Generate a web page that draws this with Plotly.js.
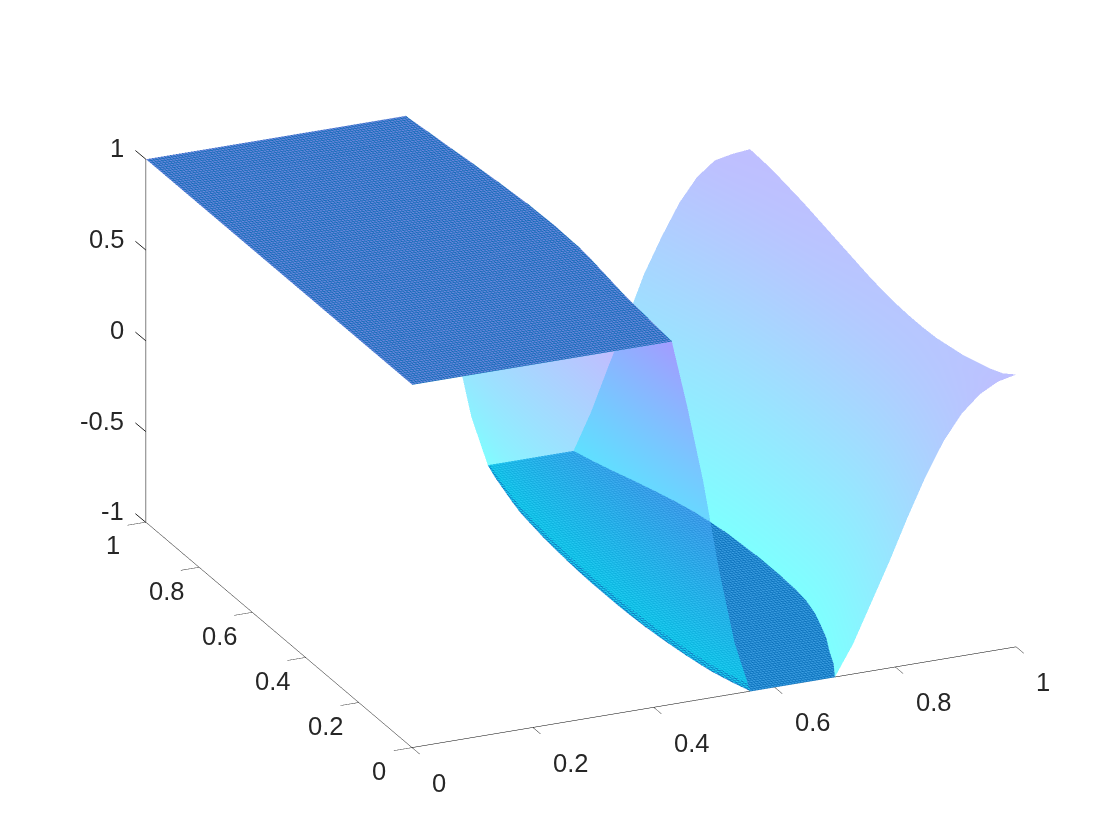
<!DOCTYPE html>
<html><head><meta charset="utf-8">
<script src="https://cdn.plot.ly/plotly-3.0.1.min.js"></script>
<style>html,body{margin:0;padding:0;background:#fff}#c{width:1120px;height:840px}</style>
</head><body><div id="c"></div>
<script>
const yRows=[0,.05,.1,.15,.2,.25,.3,.35,.4,.45,.5,.55,.6,.65,.7,.75,.8,.85,.9,.95,1];
const xTop=[.43,.4325,.435,.4375,.44,.444,.448,.452,.455,.456,.457,.456,.455,.4525,.45,.447,.444,.44,.437,.4335,.43];
const xLow=[.56,.548,.538,.532,.527,.523,.52,.518,.517,.517,.517,.518,.52,.522,.525,.529,.533,.54,.548,.556,.566];
const xHigh=[.70,.72,.735,.752,.765,.777,.785,.789,.79,.79,.79,.788,.786,.781,.775,.766,.755,.743,.73,.718,.708];
const fallStations=[0,.2,.4,.6,.8,1];
const fallZ=[1,.62,.2,-.3,-.72,-1];
const riseStations=[0,.1,.2,.3,.4,.5,.6,.7,.8,.9,1];
const riseZ=[
[-1,-.835,-.625,-.415,-.19,.02,.20,.335,.425,.478,.50],
[-1,-.841,-.639,-.436,-.22,-.017,.156,.286,.373,.423,.445],
[-1,-.845,-.648,-.45,-.239,-.041,.128,.255,.34,.389,.41],
[-1,-.848,-.654,-.46,-.252,-.058,.108,.233,.316,.364,.385],
[-1,-.85,-.66,-.47,-.266,-.075,.088,.21,.292,.34,.36],
[-1,-.852,-.664,-.475,-.274,-.085,.076,.197,.278,.325,.345],
[-1,-.854,-.668,-.481,-.282,-.096,.064,.184,.264,.31,.33],
[-1,-.854,-.669,-.483,-.285,-.099,.06,.179,.259,.305,.325],
[-1,-.854,-.669,-.483,-.285,-.099,.06,.179,.259,.305,.325],
[-1,-.854,-.668,-.481,-.282,-.096,.064,.184,.264,.31,.33],
[-1,-.853,-.665,-.477,-.276,-.089,.072,.193,.273,.32,.34],
[-1,-.851,-.661,-.472,-.268,-.079,.084,.206,.287,.335,.355],
[-1,-.849,-.656,-.464,-.258,-.065,.10,.224,.306,.354,.375],
[-1,-.847,-.651,-.456,-.247,-.051,.116,.242,.325,.374,.395],
[-1,-.844,-.646,-.448,-.236,-.038,.132,.259,.344,.394,.415],
[-1,-.842,-.641,-.44,-.225,-.024,.148,.277,.363,.414,.435],
[-1,-.84,-.636,-.433,-.214,-.01,.164,.295,.382,.433,.455],
[-1,-.835,-.625,-.415,-.19,.015,.185,.315,.40,.45,.47],
[-1,-.825,-.605,-.39,-.16,.04,.21,.335,.425,.465,.485],
[-1,-.81,-.58,-.36,-.125,.07,.24,.365,.45,.48,.495],
[-1,-.80,-.56,-.33,-.09,.10,.27,.395,.47,.49,.50]];
const xTicks=[0,.2,.4,.6,.8,1], xLabels=['0','0.2','0.4','0.6','0.8','1'];
const zTicks=[-1,-.5,0,.5,1], zLabels=['-1','-0.5','0','0.5','1'];
const coolScale=[[0,'#00ffff'],[1,'#ff00ff']];
const noLight={ambient:1,diffuse:0,specular:0,roughness:1,fresnel:0};
function strip(a,b,st,zf){
  return {x:yRows.map((_,i)=>st.map(s=>a[i]+(b[i]-a[i])*s)),
          y:yRows.map(v=>st.map(()=>v)),
          z:yRows.map((_,i)=>st.map((s,j)=>zf(i,j)))};
}
const base={type:'surface',colorscale:coolScale,cmin:-1,cmax:2,showscale:false,opacity:.5,lighting:noLight,hoverinfo:'skip'};
const flat=c=>({opacity:1,colorscale:[[0,c],[1,c]]});
const grid=(c,e)=>({x:{show:true,start:e[0],end:e[1],size:.005,color:c,width:2},y:{show:true,start:0,end:1,size:.008,color:c,width:2}});
const zeros=yRows.map(()=>0);
const ones=yRows.map(()=>1);
const traces=[
 Object.assign({},base,strip(xLow,xHigh,[0,1],()=>-1),flat('#3a9ce0'),{contours:grid('#0068b4',[.5,.8])}),
 Object.assign({},base,strip(xHigh,ones,riseStations,(i,j)=>riseZ[i][j])),
 Object.assign({},base,strip(xTop,xLow,fallStations,(i,j)=>fallZ[j])),
 Object.assign({},base,strip(zeros,xTop,[0,1],()=>1),flat('#6a86dc'),{contours:grid('#0066b0',[0,.46])})
];
const font={family:'Liberation Sans',size:25.5,color:'#262626'};
const label=(x,y,z,text,xs,ys,anc)=>({x,y,z,text,showarrow:false,xshift:xs,yshift:ys,xanchor:anc||'center',yanchor:'middle',font});
const annots=[
 ...xTicks.map((v,i)=>label(v,0,-1,xLabels[i],xLabels[i].length>1?38:27,-35)),
 ...xTicks.map((v,i)=>label(0,v,-1,xLabels[i],-33,-23)),
 ...zTicks.map((v,i)=>label(0,1,v,zLabels[i],-20,11,'right')),
 ...zTicks.map(v=>({x:0,y:1,z:v,text:' ',showarrow:true,arrowhead:0,arrowwidth:1,arrowcolor:'#262626',ax:-12,ay:-10,standoff:0,font:{size:1}}))
];
const ax={showgrid:false,zeroline:false,showbackground:false,showline:true,linecolor:'#000',linewidth:1,ticks:'outside',ticklen:20,tickcolor:'#000',tickwidth:1,showticklabels:false,title:{text:''},showspikes:false,mirror:false};
Plotly.newPlot('c',traces,{
 width:1120,height:840,margin:{l:0,r:0,t:0,b:0},paper_bgcolor:'#fff',showlegend:false,
 scene:{domain:{x:[.0375,1],y:[.04,1]},
  aspectmode:'manual',aspectratio:{x:1.64,y:1.628,z:.972},
  camera:{projection:{type:'orthographic'},eye:{x:-.75,y:-1.69,z:.75},center:{x:0,y:0,z:0},up:{x:0,y:0,z:1}},
  annotations:annots,
  xaxis:Object.assign({},ax,{range:[0,1],tickvals:xTicks}),
  yaxis:Object.assign({},ax,{range:[0,1],tickvals:xTicks,ticklen:19}),
  zaxis:Object.assign({},ax,{range:[-1,1],tickvals:zTicks,ticks:''})
 }},{displayModeBar:false});
</script></body></html>
